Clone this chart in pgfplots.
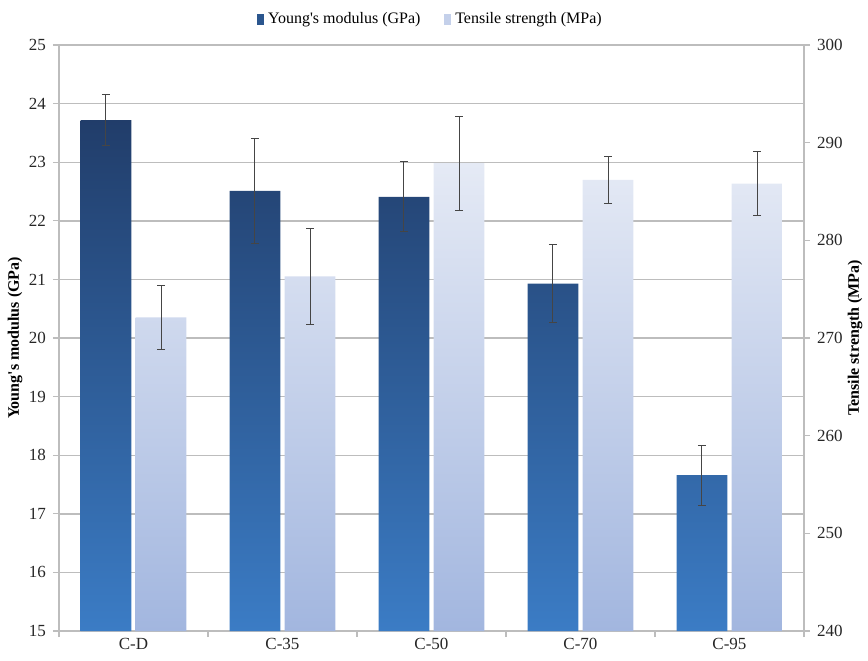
\documentclass[border=0pt]{standalone}
\usepackage{pgfplots}
\pgfplotsset{compat=1.18}
\usepackage{fontspec}
\setmainfont{Liberation Serif}
\definecolor{dtop}{HTML}{213D6A}
\definecolor{dbot}{HTML}{3B7CC5}
\definecolor{ltop}{HTML}{E5EAF5}
\definecolor{lbot}{HTML}{A2B6DF}
\definecolor{gridc}{HTML}{BDBDBD}
\definecolor{errc}{HTML}{454545}
\pgfplotsset{
  base/.style={
    width=372.5pt, height=293pt, scale only axis,
    xmin=-0.5, xmax=4.5,
    ybar, bar width=0.34,
    tick align=outside,
    /pgf/number format/assume math mode=true,
    tick label style={font=\fontsize{8.5}{10}\selectfont, text=black!85},
    label style={font=\bfseries\fontsize{8}{10}\selectfont},
    axis line style={gridc, line width=0.6pt},
    major tick length=3pt,
    tick style={gridc, line width=0.6pt},
  },
  errs/.style={error bars/.cd, y dir=both, y explicit,
    error bar style={errc, line width=0.5pt},
    error mark options={errc, rotate=90, mark size=2pt, line width=0.5pt}},
}
\begin{document}
\begin{tikzpicture}
\begin{axis}[base, name=ax,
  ymin=15, ymax=25, ytick={15,16,...,25},
  axis x line*=bottom, axis y line*=left,
  ymajorgrids, grid style={gridc, line width=0.7pt},
  xtick={-0.5,0.5,...,4.5}, xticklabels={,,,,,,},
  extra x ticks={0,1,2,3,4},
  extra x tick labels={C-D,C-35,C-50,C-70,C-95},
  extra x tick style={major tick length=0pt},
  ylabel={Young\textquotesingle s modulus (GPa)},
  ylabel style={at={(axis description cs:-0.059,0.5)}, anchor=center},
  legend style={at={(0.5,1)}, anchor=south, yshift=5pt, draw=none, fill=none,
    legend columns=2, font=\fontsize{8}{10}\selectfont,
    /tikz/every even column/.append style={column sep=10pt}},
]
\addlegendimage{legend image code/.code={\fill[dtop!60!dbot] (0pt,-2.2pt) rectangle (3pt,2.5pt);}}
\addlegendentry{Young\textquotesingle s modulus (GPa)}
\addlegendimage{legend image code/.code={\fill[ltop!50!lbot] (0pt,-2.2pt) rectangle (3pt,2.5pt);}}
\addlegendentry{Tensile strength (MPa)}
\addplot[forget plot, bar shift=-0.185, draw=none, top color=dtop, bottom color=dbot, errs]
coordinates {(0,23.72) +- (0,0.44) (1,22.51) +- (0,0.89) (2,22.41) +- (0,0.60) (3,20.93) +- (0,0.67) (4,17.66) +- (0,0.51)};
\end{axis}
\begin{axis}[base,
  ymin=240, ymax=300, ytick={240,250,...,300},
  axis y line*=right, axis x line=none,
  ylabel={Tensile strength (MPa)},
  ylabel style={at={(axis description cs:1.0685,0.5)}, anchor=center},
]
\addplot[forget plot, bar shift=0.185, draw=none, top color=ltop, bottom color=lbot, errs]
coordinates {(0,272.1) +- (0,3.25) (1,276.3) +- (0,4.95) (2,287.9) +- (0,4.8) (3,286.2) +- (0,2.4) (4,285.8) +- (0,3.3)};
\end{axis}
\pgfresetboundingbox
\useasboundingbox ([xshift=-29.5pt,yshift=-14.5pt]ax.south west) rectangle ([xshift=32pt,yshift=22.5pt]ax.north east);
\end{tikzpicture}
\end{document}
